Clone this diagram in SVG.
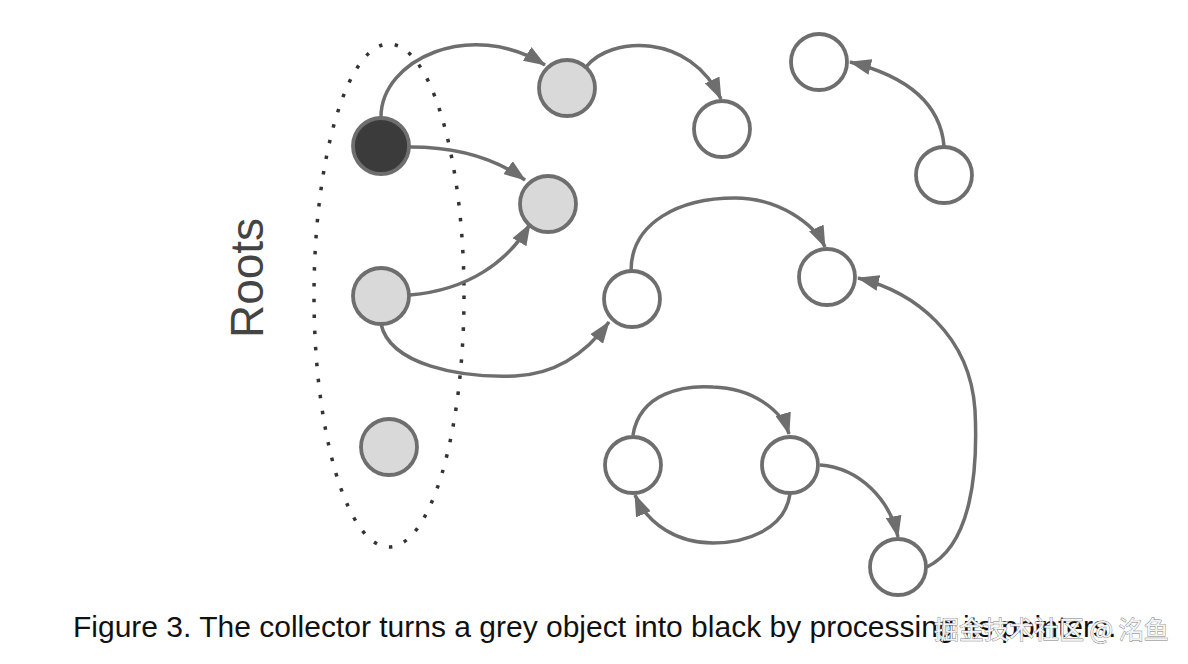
<svg xmlns="http://www.w3.org/2000/svg" width="1188" height="664" viewBox="0 0 1188 664">
<style>
.node{stroke:#6e6e6e;stroke-width:3.8}
.black{fill:#3b3b3b}
.grey{fill:#d9d9d9}
.white{fill:#ffffff}
.edge{fill:none;stroke:#6e6e6e;stroke-width:3.5;marker-end:url(#arrow)}
.caption{font-family:"Liberation Sans",Arial,sans-serif;font-size:30px;fill:#111}
.roots{font-family:"Liberation Sans",Arial,sans-serif;font-size:46px;fill:#444}
.wm{font-family:"Noto Sans CJK SC","Liberation Sans",sans-serif;font-size:25px;fill:#f4f4f4;stroke:#7a7a7a;stroke-width:0.8;paint-order:stroke}
</style>
<defs>
<marker id="arrow" viewBox="0 0 22 16" refX="21" refY="8" markerWidth="22" markerHeight="16" markerUnits="userSpaceOnUse" orient="auto">
<path d="M0,0 L22,8 L0,16 z" fill="#6e6e6e"/>
</marker>
</defs>
<rect width="1188" height="664" fill="#ffffff"/>
<ellipse id="roots-set" cx="389" cy="295.5" rx="75" ry="251.5" fill="none" stroke="#333" stroke-width="3.5" stroke-dasharray="3.5 12.5"/>
<text class="roots" transform="translate(263,278) rotate(-90)" text-anchor="middle">Roots</text>
<g id="connectors">
<path class="edge" d="M381,117 C381,60 470,18 545,65"/>
<path class="edge" d="M410,147 C455,147 495,158 525,180"/>
<path class="edge" d="M410,295 C468,290 508,262 530,224"/>
<path class="edge" d="M381,324 C390,365 460,378 515,376 C560,374 590,348 609,322"/>
<path class="edge" d="M586,67 C610,36 690,32 721,99"/>
<path class="edge" d="M944,146 C940,100 902,75 850,62"/>
<path class="edge" d="M631,271 C631,222 680,198 735,198 C780,198 815,225 825,247"/>
<path class="edge" d="M927,567 C972,545 978,470 975,410 C970,335 915,292 858,278"/>
<path class="edge" d="M633,435 C640,392 685,385 713,387 C752,388 782,410 789,434"/>
<path class="edge" d="M790,494 C785,530 745,543 713,543 C678,543 648,525 635,495"/>
<path class="edge" d="M820,465 C860,468 890,500 898,537"/>
</g>
<g id="n-root1"><circle class="node black" cx="381" cy="146" r="28"/></g>
<g id="n-root2"><circle class="node grey" cx="381" cy="296" r="28"/></g>
<g id="n-root3"><circle class="node grey" cx="389" cy="447" r="28"/></g>
<g id="n-a"><circle class="node grey" cx="567" cy="88" r="28"/></g>
<g id="n-c"><circle class="node grey" cx="548" cy="204" r="28"/></g>
<g id="n-b"><circle class="node white" cx="722" cy="129" r="28"/></g>
<g id="n-d"><circle class="node white" cx="819" cy="62" r="28"/></g>
<g id="n-e"><circle class="node white" cx="944" cy="175" r="28"/></g>
<g id="n-f"><circle class="node white" cx="632" cy="299" r="28"/></g>
<g id="n-g"><circle class="node white" cx="827" cy="277" r="28"/></g>
<g id="n-h"><circle class="node white" cx="633" cy="465" r="28"/></g>
<g id="n-i"><circle class="node white" cx="790" cy="465" r="28"/></g>
<g id="n-j"><circle class="node white" cx="898" cy="567" r="28"/></g>
<text class="caption" x="73" y="637">Figure 3. The collector turns a grey object into black by processing its pointers.</text>
<text class="wm" x="934" y="639">掘金技术社区 @ 洺鱼</text>
</svg>
